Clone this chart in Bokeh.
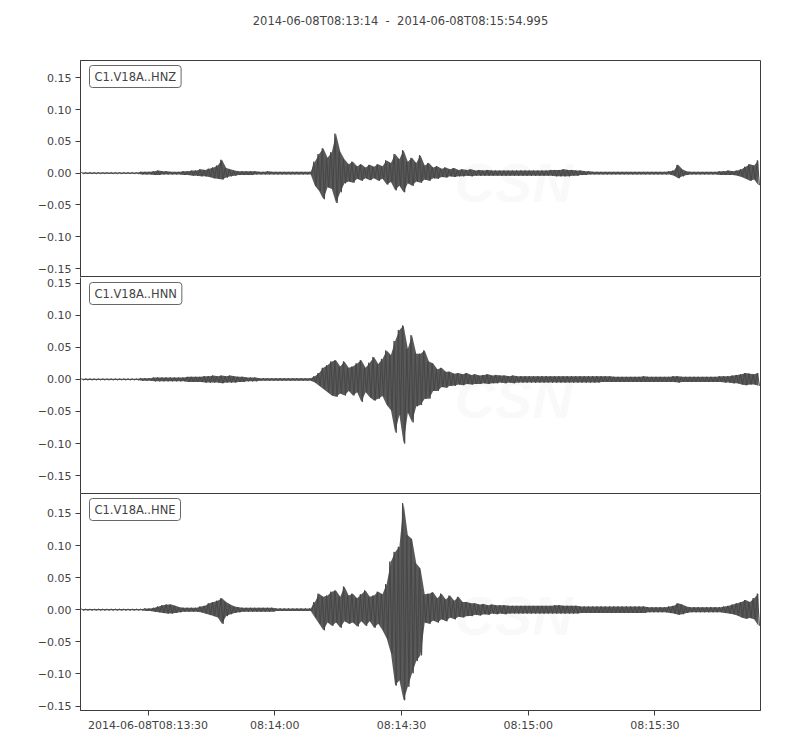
from bokeh.plotting import figure
from bokeh.layouts import column
from bokeh.models import Label, FixedTicker, CustomJSTickFormatter, LinearAxis, Range1d
from bokeh.embed import file_html
from bokeh.resources import INLINE

title_text = "2014-06-08T08:13:14 \u00a0-\u00a0 2014-06-08T08:15:54.995"
channels = ["C1.V18A..HNZ", "C1.V18A..HNN", "C1.V18A..HNE"]

# seconds after 2014-06-08T08:13:14 (one envelope bin per second)
t_end = 160.995
bin_start = [
    0, 1, 2, 3, 4, 5, 6, 7, 8, 9, 10, 11, 12, 13, 14, 15, 16, 17, 18, 19,
    20, 21, 22, 23, 24, 25, 26, 27, 28, 29, 30, 31, 32, 33, 34, 35, 36, 37, 38, 39,
    40, 41, 42, 43, 44, 45, 46, 47, 48, 49, 50, 51, 52, 53, 54, 55, 56, 57, 58, 59,
    60, 61, 62, 63, 64, 65, 66, 67, 68, 69, 70, 71, 72, 73, 74, 75, 76, 77, 78, 79,
    80, 81, 82, 83, 84, 85, 86, 87, 88, 89, 90, 91, 92, 93, 94, 95, 96, 97, 98, 99,
    100, 101, 102, 103, 104, 105, 106, 107, 108, 109, 110, 111, 112, 113, 114, 115, 116, 117, 118, 119,
    120, 121, 122, 123, 124, 125, 126, 127, 128, 129, 130, 131, 132, 133, 134, 135, 136, 137, 138, 139,
    140, 141, 142, 143, 144, 145, 146, 147, 148, 149, 150, 151, 152, 153, 154, 155, 156, 157, 158, 159, 160,
]

# envelope (max / min within each second), in units of 0.001
hnz_up = [
    1, 1, 1, 1, 1, 1, 1, 1, 1, 1,
    1, 1, 1, 1, 2, 2, 2, 3, 4, 3,
    3, 2, 2, 2, 3, 3, 4, 4, 6, 5,
    7, 9, 12, 21, 8, 6, 4, 3, 3, 3,
    3, 3, 2, 2, 3, 2, 2, 2, 2, 2,
    2, 2, 2, 2, 2, 18, 30, 39, 24, 33,
    62, 34, 22, 14, 18, 11, 14, 9, 13, 10,
    14, 11, 20, 16, 30, 22, 36, 18, 24, 16,
    28, 12, 16, 9, 11, 7, 9, 6, 8, 5,
    6, 5, 6, 4, 5, 4, 5, 4, 4, 4,
    4, 4, 4, 4, 4, 4, 4, 4, 4, 4,
    4, 5, 5, 5, 6, 5, 5, 4, 4, 3,
    3, 2, 2, 2, 2, 2, 2, 2, 2, 2,
    2, 2, 2, 2, 2, 2, 2, 2, 2, 3,
    4, 13, 6, 3, 2, 2, 2, 2, 2, 2,
    2, 3, 3, 4, 3, 4, 6, 10, 14, 12, 20,
]
hnz_lo = [
    -1, -1, -1, -1, -1, -1, -1, -1, -1, -1,
    -1, -1, -1, -1, -2, -2, -2, -3, -3, -2,
    -2, -2, -2, -2, -3, -3, -4, -4, -5, -5,
    -6, -8, -9, -10, -7, -5, -4, -3, -3, -3,
    -3, -2, -2, -2, -2, -2, -2, -2, -2, -2,
    -2, -2, -2, -2, -2, -20, -28, -41, -22, -25,
    -47, -30, -16, -13, -15, -9, -12, -8, -11, -8,
    -12, -9, -18, -14, -27, -20, -30, -16, -20, -13,
    -15, -10, -12, -8, -9, -6, -7, -5, -6, -5,
    -5, -4, -5, -4, -4, -4, -4, -4, -4, -4,
    -4, -4, -4, -4, -4, -4, -4, -4, -4, -4,
    -4, -4, -5, -5, -5, -5, -4, -4, -3, -3,
    -2, -2, -2, -2, -2, -2, -2, -2, -2, -2,
    -2, -2, -2, -2, -2, -2, -2, -2, -2, -2,
    -4, -8, -5, -3, -2, -2, -2, -2, -2, -2,
    -2, -3, -3, -3, -3, -4, -6, -9, -12, -10, -19,
]
hnn_up = [
    1, 1, 1, 1, 1, 1, 1, 1, 1, 1,
    1, 1, 1, 1, 2, 2, 2, 3, 3, 3,
    3, 3, 3, 3, 3, 4, 4, 4, 4, 5,
    5, 6, 5, 6, 5, 6, 5, 4, 4, 3,
    3, 3, 2, 2, 2, 2, 2, 2, 2, 2,
    2, 2, 2, 2, 2, 5, 10, 18, 22, 28,
    30, 20, 28, 18, 20, 25, 30, 18, 26, 35,
    24, 32, 45, 38, 60, 77, 84, 48, 69, 40,
    40, 45, 28, 25, 16, 18, 12, 12, 9, 10,
    8, 10, 7, 8, 6, 7, 8, 6, 7, 6,
    6, 5, 6, 5, 5, 5, 5, 5, 5, 5,
    5, 5, 5, 5, 5, 5, 5, 5, 5, 5,
    5, 5, 5, 5, 5, 5, 4, 4, 4, 4,
    4, 4, 4, 5, 4, 4, 4, 4, 4, 4,
    5, 5, 4, 4, 4, 4, 4, 4, 4, 4,
    4, 5, 5, 5, 6, 7, 8, 10, 9, 8, 10,
]
hnn_lo = [
    -1, -1, -1, -1, -1, -1, -1, -1, -1, -1,
    -1, -1, -1, -1, -2, -2, -2, -3, -3, -3,
    -3, -3, -3, -3, -3, -4, -4, -4, -4, -5,
    -5, -5, -5, -6, -5, -5, -5, -4, -4, -3,
    -3, -3, -2, -2, -2, -2, -2, -2, -2, -2,
    -2, -2, -2, -2, -2, -5, -10, -15, -20, -25,
    -27, -22, -25, -18, -25, -20, -35, -20, -28, -33,
    -30, -26, -40, -48, -83, -55, -100, -52, -67, -42,
    -40, -30, -30, -18, -18, -12, -13, -10, -10, -8,
    -9, -7, -8, -7, -7, -6, -7, -6, -6, -5,
    -6, -5, -6, -5, -5, -5, -5, -5, -5, -5,
    -5, -5, -5, -5, -5, -5, -5, -5, -5, -5,
    -5, -5, -5, -4, -4, -4, -4, -4, -4, -4,
    -4, -4, -4, -4, -4, -4, -4, -4, -4, -4,
    -4, -5, -4, -4, -4, -4, -4, -4, -4, -4,
    -4, -4, -5, -5, -6, -6, -8, -9, -8, -8, -10,
]
hne_up = [
    1, 1, 1, 1, 1, 1, 1, 1, 1, 1,
    1, 1, 1, 1, 1, 2, 2, 3, 5, 7,
    8, 8, 6, 4, 3, 3, 3, 3, 5, 6,
    10, 12, 14, 18, 12, 8, 5, 4, 3, 3,
    3, 3, 3, 3, 3, 3, 2, 2, 2, 2,
    2, 2, 2, 2, 2, 12, 25, 20, 22, 28,
    30, 20, 36, 22, 25, 18, 24, 30, 20, 22,
    28, 24, 40, 75, 90, 98, 166, 116, 110, 72,
    64, 24, 25, 27, 18, 25, 16, 22, 14, 20,
    12, 12, 10, 10, 8, 9, 7, 8, 7, 7,
    7, 6, 6, 6, 6, 6, 6, 6, 6, 6,
    6, 6, 7, 7, 6, 6, 6, 6, 5, 5,
    5, 5, 5, 5, 5, 5, 5, 5, 5, 5,
    5, 5, 5, 5, 4, 4, 4, 4, 4, 5,
    6, 10, 8, 5, 4, 4, 4, 4, 4, 4,
    4, 4, 5, 6, 8, 10, 12, 15, 12, 18, 25,
]
hne_lo = [
    -1, -1, -1, -1, -1, -1, -1, -1, -1, -1,
    -1, -1, -1, -1, -1, -2, -2, -3, -4, -5,
    -6, -6, -5, -4, -3, -3, -3, -3, -4, -6,
    -8, -10, -12, -22, -10, -7, -5, -4, -3, -3,
    -3, -3, -3, -3, -3, -3, -2, -2, -2, -2,
    -2, -2, -2, -2, -2, -12, -22, -32, -20, -25,
    -20, -28, -18, -22, -20, -26, -18, -25, -18, -28,
    -22, -32, -45, -68, -118, -110, -141, -120, -99, -80,
    -71, -20, -22, -17, -20, -15, -18, -12, -15, -11,
    -12, -10, -10, -8, -9, -7, -8, -6, -7, -6,
    -7, -6, -6, -6, -6, -6, -6, -6, -6, -6,
    -6, -6, -6, -6, -6, -6, -6, -6, -5, -5,
    -5, -5, -5, -5, -5, -5, -5, -5, -5, -5,
    -5, -5, -5, -5, -4, -4, -4, -4, -4, -5,
    -6, -8, -7, -5, -4, -4, -4, -4, -4, -4,
    -4, -4, -5, -6, -7, -9, -12, -14, -13, -15, -25,
]
ups = [hnz_up, hnn_up, hne_up]
los = [hnz_lo, hnn_lo, hne_lo]

x_ticks = [16, 46, 76, 106, 136]
x_tick_labels = ["2014-06-08T08:13:30", "08:14:00", "08:14:30", "08:15:00", "08:15:30"]
y_ticks = [-0.15, -0.10, -0.05, 0.0, 0.05, 0.10, 0.15]
y_limits = [(-0.164, 0.177), (-0.178, 0.159), (-0.157, 0.181)]
frame_heights = [217, 216, 217]

FONT = "DejaVu Sans"
TXT = "#444444"
TRACE = "#474747"
SPINE = "#3c3c3c"

# title strip (a frame-only figure that carries the title text)
tp = figure(width=784, height=52, x_range=Range1d(0, 1), y_range=Range1d(0, 1),
            output_backend="svg", toolbar_location=None,
            x_axis_location=None, y_axis_location=None,
            min_border_left=0, min_border_right=0, min_border_top=0, min_border_bottom=0)
tp.xgrid.visible = False
tp.ygrid.visible = False
tp.outline_line_color = None
tp.background_fill_color = "white"
tp.border_fill_color = "white"
tp.add_layout(Label(x=320, y=32, x_units="screen", y_units="screen",
                    text=title_text, text_font=FONT, text_font_size="11.5px",
                    text_color=TXT, text_align="center", text_baseline="middle"))

x_range = Range1d(0, t_end)
figs = [tp]
for k in range(3):
    top = 8 if k == 0 else 0
    bottom = 34 if k == 2 else 0
    h = frame_heights[k] + top + bottom
    p = figure(width=784, height=h, x_range=x_range,
               y_range=Range1d(*y_limits[k]),
               output_backend="svg", toolbar_location=None,
               x_axis_location=("below" if k == 2 else None),
               min_border_left=80, min_border_right=24,
               min_border_top=top, min_border_bottom=bottom)
    p.xgrid.visible = False
    p.ygrid.visible = False
    p.background_fill_color = "white"
    p.border_fill_color = "white"
    if k == 1:
        p.outline_line_color = None
        ra = LinearAxis(major_tick_out=0, major_tick_in=0, minor_tick_out=0,
                        minor_tick_in=0, major_label_text_font_size="0px",
                        axis_line_color=SPINE, axis_line_width=1)
        ra.ticker = FixedTicker(ticks=[])
        p.add_layout(ra, "right")
    else:
        p.outline_line_color = SPINE
        p.outline_line_width = 1
        p.outline_line_alpha = 1

    ya = p.yaxis[0]
    ya.ticker = FixedTicker(ticks=y_ticks)
    ya.formatter = CustomJSTickFormatter(
        code="return tick.toFixed(2).replace('-', '\u2212');")
    ya.major_tick_out = 5
    ya.major_tick_in = 0
    ya.minor_tick_out = 0
    ya.minor_tick_in = 0
    ya.major_label_standoff = 4
    ya.major_label_text_font = FONT
    ya.major_label_text_font_size = "11px"
    ya.major_label_text_color = TXT
    ya.axis_line_color = SPINE
    ya.major_tick_line_color = SPINE

    if k == 2:
        xa = p.xaxis[0]
        xa.ticker = FixedTicker(ticks=x_ticks)
        xa.formatter = CustomJSTickFormatter(
            args=dict(vals=x_ticks, labs=x_tick_labels),
            code="const i = vals.indexOf(tick); return i >= 0 ? labs[i] : '';")
        xa.major_tick_out = 5
        xa.major_tick_in = 0
        xa.minor_tick_out = 0
        xa.minor_tick_in = 0
        xa.major_label_standoff = 3
        xa.major_label_text_font = FONT
        xa.major_label_text_font_size = "11px"
        xa.major_label_text_color = TXT
        xa.axis_line_color = SPINE
        xa.major_tick_line_color = SPINE

    # faint CSN watermark (underneath the trace)
    fh = frame_heights[k]
    p.add_layout(Label(x=374, y=64, x_units="screen", y_units="screen",
                       text="CSN", text_font="Liberation Sans",
                       text_font_style="bold italic", text_font_size="56px",
                       text_color="black", text_alpha=0.025, level="underlay"))
    p.add_layout(Label(x=452, y=45, x_units="screen", y_units="screen",
                       text="CENTRO SISMOLÓGICO NACIONAL", text_font="Liberation Sans",
                       text_font_style="italic", text_font_size="12.5px",
                       text_color="black", text_alpha=0.025, level="underlay"))
    p.add_layout(Label(x=452, y=27, x_units="screen", y_units="screen",
                       text="UNIVERSIDAD DE CHILE", text_font="Liberation Sans",
                       text_font_style="italic", text_font_size="12.5px",
                       text_color="black", text_alpha=0.025, level="underlay"))

    mid_x = [t + 0.5 for t in bin_start]
    up_v = [u / 1000.0 for u in ups[k]]
    lo_v = [l / 1000.0 for l in los[k]]
    p.varea(x=mid_x, y1=lo_v, y2=up_v, fill_color=TRACE, fill_alpha=0.9)

    xs, ys = [0.0], [0.0]
    for t, u, l in zip(bin_start, up_v, lo_v):
        xs += [t + 0.25, t + 0.75]
        ys += [u, l]
    p.line(xs, ys, line_color=TRACE, line_width=1)

    p.add_layout(Label(x=9, y=fh - 5, x_units="screen", y_units="screen",
                       text=channels[k], text_font=FONT, text_font_size="11.5px",
                       text_color=TXT, text_align="left", text_baseline="top",
                       background_fill_color="white", border_line_color="#666666",
                       border_line_width=1, padding=(5, 4), border_radius=3))
    figs.append(p)

layout = column(*figs, spacing=0)
open("out.html", "w").write(file_html(layout, INLINE))
